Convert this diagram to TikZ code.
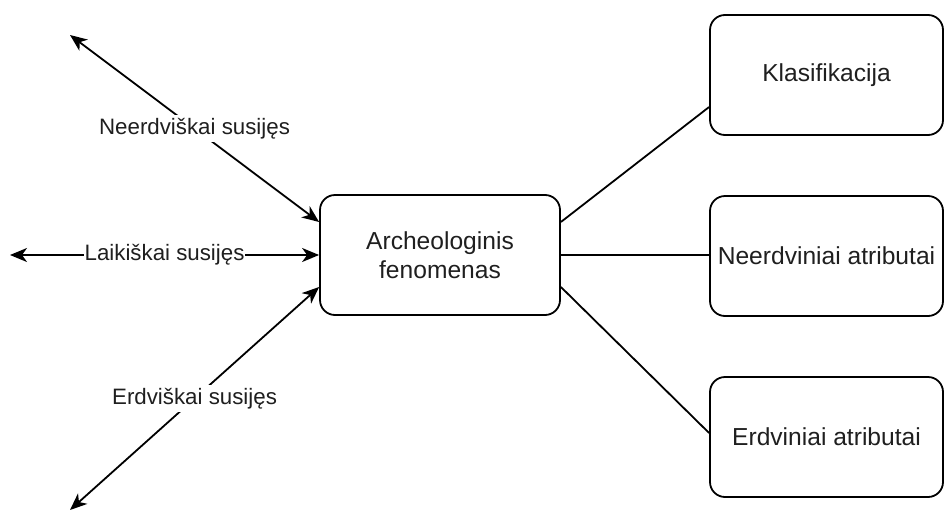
\documentclass[tikz,border=0pt]{standalone}
\usepackage{fontspec}
\setmainfont{Liberation Sans}
\usetikzlibrary{arrows.meta}
\begin{document}
\begin{tikzpicture}[x=1pt,y=-1pt,
  box/.style={draw, line width=1.8pt, rounded corners=15pt, inner sep=0pt,
    minimum height=120pt, align=center, text=black!88,
    font=\fontsize{24.6}{29}\selectfont},
  link/.style={line width=1.8pt},
  tip/.style={Stealth[length=17pt,width=14pt,inset=5pt]},
  rel/.style={line width=1.8pt, {Stealth[length=17pt,width=14pt,inset=5pt]}-{Stealth[length=17pt,width=14pt,inset=5pt]}},
  lbl/.style={fill=white, inner sep=3pt, text=black!88,
    font=\fontsize{22.3}{26}\selectfont}]
  \useasboundingbox (0,0) rectangle (944,514);

  % central phenomenon
  \node[box, minimum width=240pt] (c) at (440,255) {Archeologinis\\fenomenas};

  % attribute boxes on the right
  \node[box, minimum width=233pt] (k) at (826.5,75)  {Klasifikacija};
  \node[box, minimum width=233pt] (n) at (826.5,256) {Neerdviniai atributai};
  \node[box, minimum width=233pt] (e) at (826.5,437) {Erdviniai atributai};

  % plain links to the attributes
  \draw[link] ([yshift=33pt]c.east) -- ([yshift=-32pt]k.west);
  \draw[link] (c.east) -- (c.east -| n.west);
  \draw[link] ([yshift=-32pt]c.east) -- ([yshift=4pt]e.west);

  % free ends of the relations on the left
  \coordinate (tl) at (70,35);
  \coordinate (ml) at (10,255);
  \coordinate (bl) at (70,510);

  \draw[rel] (tl) -- node[lbl] {Neerdviškai susijęs} ([yshift=33pt]c.west);
  \draw[rel] (ml) -- node[lbl, inner sep=1pt] {Laikiškai susijęs} (c.west);
  \draw[rel] (bl) -- node[lbl] {Erdviškai susijęs} ([yshift=-32pt]c.west);
\end{tikzpicture}
\end{document}
